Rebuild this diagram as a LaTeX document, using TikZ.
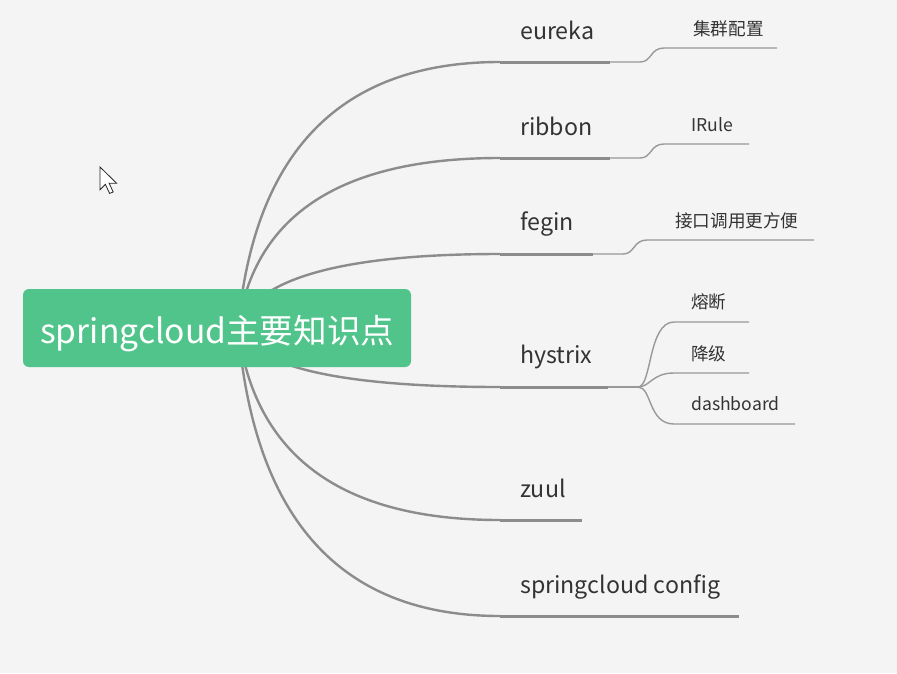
\documentclass[tikz,border=0pt]{standalone}
\usepackage{fontspec}
\setmainfont{Noto Sans CJK SC}
\usepackage{tikz}
\usetikzlibrary{calc}
\definecolor{bg}{HTML}{F4F4F4}
\definecolor{rootgreen}{HTML}{50C48B}
\definecolor{branch}{HTML}{8C8C8C}
\definecolor{twig}{HTML}{999999}
\definecolor{ink}{HTML}{333333}
\tikzset{
  mainline/.style={draw=branch, line width=2.4pt},
  underline/.style={draw=branch, line width=3pt},
  subline/.style={draw=twig, line width=1.4pt},
  lab/.style={text=ink, font=\fontsize{23.2}{27}\selectfont, anchor=base west, inner sep=0pt},
  sublab/.style={text=ink, font=\fontsize{17.6}{20}\selectfont, anchor=base west, inner sep=0pt},
  rootbox/.style={fill=rootgreen, rounded corners=6pt},
}
\begin{document}
\begin{tikzpicture}[x=1pt, y=-1pt]
  \fill[bg] (0,0) rectangle (897,673);
  \useasboundingbox (0,0) rectangle (897,673);

  \coordinate (O) at (238,328);

  % main branches: start of underline (L) and its end (R)
  \coordinate (eurekaL) at (500,62);   \coordinate (eurekaR) at (610,62);
  \coordinate (ribbonL) at (500,158);  \coordinate (ribbonR) at (610,158);
  \coordinate (feginL) at (500,254);   \coordinate (feginR) at (593,254);
  \coordinate (hystrixL) at (500,387); \coordinate (hystrixR) at (608,387);
  \coordinate (zuulL) at (500,520);    \coordinate (zuulR) at (582,520);
  \coordinate (configL) at (500,616);  \coordinate (configR) at (739,616);

  % curves from the root, behind the box (quadratic, bend point at x=262)
  \foreach \b/\y in {eureka/62, ribbon/158, fegin/254, hystrix/387, zuul/520, config/616}
    \draw[mainline] (O) .. controls ($(O)!2/3!(262,\y)$) and ($(\b L)!2/3!(262,\y)$) .. (\b L);
  \foreach \b in {eureka, ribbon, fegin, hystrix, zuul, config}
    \draw[underline] (\b L) -- (\b R);

  % root
  \fill[rootbox] (23,289) rectangle (411,367);
  \node[text=white, font=\fontsize{33.6}{38}\selectfont, anchor=base west, inner sep=0pt] (root) at (40,343) {springcloud主要知识点};

  % branch labels
  \node[lab] (eureka) at (520,39) {eureka};
  \node[lab] (ribbon) at (520,135) {ribbon};
  \node[lab] (fegin) at (520,230) {fegin};
  \node[lab] (hystrix) at (520,363) {hystrix};
  \node[lab] (zuul) at (520,497) {zuul};
  \node[lab] (config) at (520,593) {springcloud config};

  % sub branches
  \coordinate (clusterR) at (777,48);
  \coordinate (iruleR) at (749,144);
  \coordinate (easyR) at (814,240);
  \draw[subline] (eurekaR) -- ++(30,0) coordinate (eurekaJ)
    .. controls ($(eurekaJ)+(12,0)$) and ($(eurekaJ)+(10,-14)$) .. ($(eurekaJ)+(24,-14)$) -- (clusterR);
  \draw[subline] (ribbonR) -- ++(30,0) coordinate (ribbonJ)
    .. controls ($(ribbonJ)+(12,0)$) and ($(ribbonJ)+(10,-14)$) .. ($(ribbonJ)+(24,-14)$) -- (iruleR);
  \draw[subline] (feginR) -- ++(30,0) coordinate (feginJ)
    .. controls ($(feginJ)+(12,0)$) and ($(feginJ)+(10,-14)$) .. ($(feginJ)+(24,-14)$) -- (easyR);

  \coordinate (fuseR) at (749,322);
  \coordinate (degradeR) at (749,373);
  \coordinate (dashR) at (795,424);
  \draw[subline] (hystrixR) -- ++(30,0) coordinate (hystrixJ);
  \draw[subline] (hystrixJ) .. controls (652,387) and (648,322) .. (674,322) -- (fuseR);
  \draw[subline] (hystrixJ) .. controls (650,387) and (652,373) .. (674,373) -- (degradeR);
  \draw[subline] (hystrixJ) .. controls (652,387) and (648,424) .. (674,424) -- (dashR);

  \node[sublab] (cluster) at (693,35) {集群配置};
  \node[sublab] (irule) at (691,131) {IRule};
  \node[sublab] (easy) at (675,227) {接口调用更方便};
  \node[sublab] (fuse) at (691,308) {熔断};
  \node[sublab] (degrade) at (691,360) {降级};
  \node[sublab] (dash) at (691,410) {dashboard};

  % mouse pointer
  \draw[shift={(100,167)}, scale=1.2, fill=white, draw=black!85, line width=0.8pt, line join=miter]
    (0,0) -- (0,19) -- (4.5,14.5) -- (8,22) -- (11,20.8) -- (7.6,13.5) -- (13.8,13.5) -- cycle;
\end{tikzpicture}
\end{document}
